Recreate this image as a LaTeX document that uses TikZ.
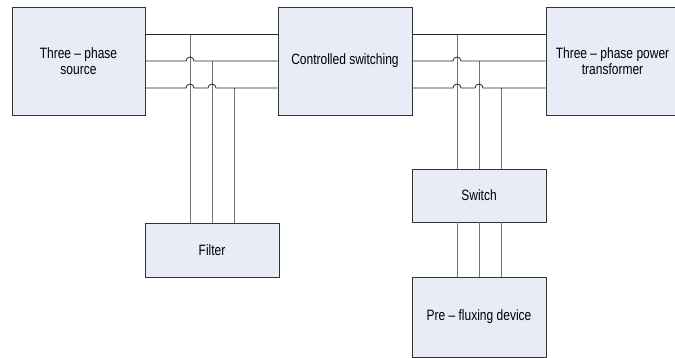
\documentclass[tikz,border=0pt]{standalone}
\usepackage{fontspec}
\setmainfont[FakeStretch=0.8]{Liberation Sans}
\begin{document}
\begin{tikzpicture}[x=1pt,y=-1pt,
  blk/.style={draw=black!80, line width=0.8pt, fill=blockfill, align=center,
    inner sep=0pt, font=\fontsize{15}{16}\selectfont},
  bus/.style={draw=black!85, line width=0.8pt},
  tap/.style={draw=black!55, line width=0.9pt},
  hopr/.style={},
]
\definecolor{blockfill}{HTML}{E7ECF6}
\useasboundingbox (0,0) rectangle (675,358);
\clip (0,0) rectangle (675,358);

% blocks
\node[blk, minimum width=133, minimum height=108] (src)  at (78.5,61)  {Three -- phase\\source};
\node[blk, minimum width=134, minimum height=108] (ctrl) at (345,61)   {Controlled switching};
\node[blk, minimum width=133, minimum height=108] (tr)   at (612.5,61) {Three -- phase power\\transformer};
\node[blk, minimum width=134, minimum height=54]  (filt) at (212,250)  {Filter};
\node[blk, minimum width=134, minimum height=53]  (sw)   at (479,195.5) {Switch};
\node[blk, minimum width=134, minimum height=80]  (pre)  at (479,317)  {Pre -- fluxing device};

% bus levels and tap positions
\coordinate (ya) at (0,34);
\coordinate (yb) at (0,61);
\coordinate (yc) at (0,88);
\coordinate (la) at (190,0);
\coordinate (lb) at (212,0);
\coordinate (lc) at (234,0);
\coordinate (ra) at (457,0);
\coordinate (rb) at (479,0);
\coordinate (rc) at (501,0);

% taps down to the filter and to the switch
\foreach \c/\y in {la/ya, lb/yb, lc/yc} {
  \draw[tap] (\c |- \y) -- (\c |- filt.north);
}
\foreach \c/\y in {ra/ya, rb/yb, rc/yc} {
  \draw[tap] (\c |- \y) -- (\c |- sw.north);
  \draw[tap] (\c |- sw.south) -- (\c |- pre.north);
}

% three-phase buses with hops over the taps
\draw[bus] (src.east |- ya) -- (ctrl.west |- ya);
\draw[bus] (src.east |- yb) -- ([xshift=-4] la |- yb)
  arc[start angle=180, end angle=360, radius=4] -- (ctrl.west |- yb);
\draw[bus] (src.east |- yc) -- ([xshift=-4] la |- yc)
  arc[start angle=180, end angle=360, radius=4] -- ([xshift=-4] lb |- yc)
  arc[start angle=180, end angle=360, radius=4] -- (ctrl.west |- yc);

\draw[bus] (ctrl.east |- ya) -- (tr.west |- ya);
\draw[bus] (ctrl.east |- yb) -- ([xshift=-4] ra |- yb)
  arc[start angle=180, end angle=360, radius=4] -- (tr.west |- yb);
\draw[bus] (ctrl.east |- yc) -- ([xshift=-4] ra |- yc)
  arc[start angle=180, end angle=360, radius=4] -- ([xshift=-4] rb |- yc)
  arc[start angle=180, end angle=360, radius=4] -- (tr.west |- yc);
\end{tikzpicture}
\end{document}
